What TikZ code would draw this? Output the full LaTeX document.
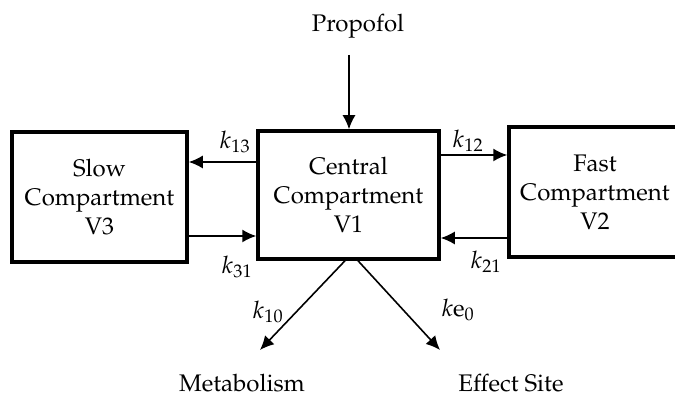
\documentclass[tikz,border=0pt]{standalone}
\usepackage[T1]{fontenc}
\usepackage{mathpazo}
\usepackage{tikz}
\usetikzlibrary{arrows.meta}

\begin{document}
\begin{tikzpicture}[x=1pt,y=1pt,
  comp/.style={draw,line width=3.5pt,align=center,inner sep=0pt},
  flow/.style={line width=1.6pt,-{Latex[length=14pt,width=13pt]}},
  txt/.style={font=\fontsize{24}{29}\selectfont}]
\clip (0,0) rectangle (675,398);
\useasboundingbox (0,0) rectangle (675,398);
\node[comp,txt,minimum width=175pt,minimum height=130pt] (slow) at (99.5,201) {Slow\\Compartment\\V3};
\node[comp,txt,minimum width=181pt,minimum height=128pt] (central) at (348.5,203) {Central\\Compartment\\V1};
\node[comp,txt,minimum width=172pt,minimum height=130pt] (fast) at (595,206) {Fast\\Compartment\\V2};
\node[txt] (drug) at (358,372) {Propofol};
\node[txt] (met) at (242,15) {Metabolism};
\node[txt] (eff) at (511,15) {Effect Site};
\coordinate (drugtail) at (349,343);
\coordinate (mettip) at (260,48);
\coordinate (efftip) at (440,48);
\draw[flow] (drugtail) -- (drugtail |- central.north);
\draw[flow] ([yshift=33pt]central.west) -- ([yshift=33pt]central.west -| slow.east);
\draw[flow] ([yshift=-41pt]central.west -| slow.east) -- ([yshift=-41pt]central.west);
\draw[flow] ([yshift=40pt]central.east) -- ([yshift=40pt]central.east -| fast.west);
\draw[flow] ([yshift=-43pt]central.east -| fast.west) -- ([yshift=-43pt]central.east);
\draw[flow] ([xshift=-3.5pt]central.south) -- (mettip);
\draw[flow] ([xshift=9.5pt]central.south) -- (efftip);
\node[txt] (k13) at (235,256) {$k_{13}$};
\node[txt] (k31) at (237,131) {$k_{31}$};
\node[txt] (k12) at (468,257) {$k_{12}$};
\node[txt] (k21) at (486,136) {$k_{21}$};
\node[txt] (k10) at (268,86) {$k_{10}$};
\node[txt] (ke0) at (458,88) {$k\mathrm{e}_0$};
\end{tikzpicture}
\end{document}
